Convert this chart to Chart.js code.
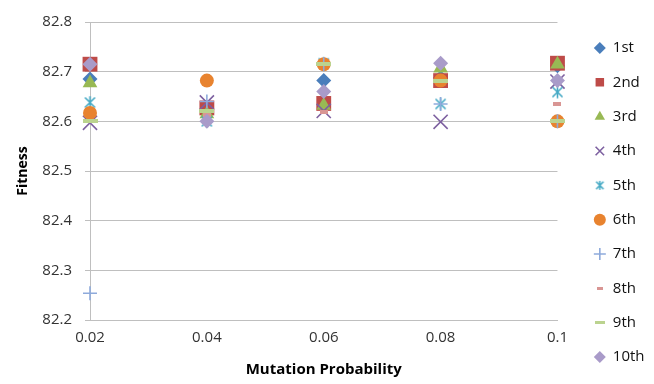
<!DOCTYPE html>
<html>
<head>
<meta charset="utf-8">
<script src="https://cdn.jsdelivr.net/npm/chart.js@4.4.1/dist/chart.umd.min.js"></script>
<style>
  html, body { margin: 0; padding: 0; background: #fff; }
  #wrap { width: 654px; height: 384px; }
</style>
</head>
<body>
<div id="wrap"><canvas id="chart"></canvas></div>
<script>
  // mutation probabilities on the x axis
  const PROBABILITIES = [0.02, 0.04, 0.06, 0.08, 0.1];
  const Y_TICKS = [82.2, 82.3, 82.4, 82.5, 82.6, 82.7, 82.8];

  const RUN_NAMES = ['1st', '2nd', '3rd', '4th', '5th', '6th', '7th', '8th', '9th', '10th'];

  // fitness of each run, one value per probability
  const RUN_1 = [82.685, 82.625, 82.682, 82.688, 82.712];
  const RUN_2 = [82.715, 82.627, 82.636, 82.682, 82.717];
  const RUN_3 = [82.677, 82.615, 82.632, 82.707, 82.715];
  const RUN_4 = [82.597, 82.638, 82.621, 82.599, 82.680];
  const RUN_5 = [82.638, 82.600, 82.717, 82.635, 82.659];
  const RUN_6 = [82.617, 82.682, 82.715, 82.682, 82.600];
  const RUN_7 = [82.254, 82.640, 82.715, 82.635, 82.600];
  const RUN_8 = [82.600, 82.612, 82.618, 82.682, 82.635];
  const RUN_9 = [82.600, 82.620, 82.715, 82.682, 82.600];
  const RUN_10 = [82.715, 82.600, 82.660, 82.717, 82.682];

  const RUNS = [RUN_1, RUN_2, RUN_3, RUN_4, RUN_5, RUN_6, RUN_7, RUN_8, RUN_9, RUN_10];

  const COLORS = ['#4A7EBB', '#BE4B48', '#98B954', '#7D60A0', '#46AAC5',
                  '#E8832F', '#8EAADB', '#D99694', '#BBD38F', '#A99BC9'];

  // small canvases for the marker shapes Chart.js has no built-in for
  function starMarker(size, color) {
    const c = document.createElement('canvas');
    c.width = size; c.height = size;
    const ctx = c.getContext('2d');
    ctx.strokeStyle = color;
    ctx.lineWidth = 1.6;
    const m = size / 2, e = size * 0.42;
    ctx.beginPath();
    ctx.moveTo(m, m - e); ctx.lineTo(m, m + e);
    ctx.moveTo(m - e * 0.8, m - e * 0.8); ctx.lineTo(m + e * 0.8, m + e * 0.8);
    ctx.moveTo(m + e * 0.8, m - e * 0.8); ctx.lineTo(m - e * 0.8, m + e * 0.8);
    ctx.stroke();
    return c;
  }

  function barMarker(w, h, color) {
    const c = document.createElement('canvas');
    c.width = w; c.height = h;
    const ctx = c.getContext('2d');
    ctx.fillStyle = color;
    ctx.fillRect(0, 0, w, h);
    return c;
  }

  const MARKERS = [
    { style: 'rectRot', radius: 7.5 },
    { style: 'rect', radius: 10.5 },
    { style: 'triangle', radius: 8.5 },
    { style: 'crossRot', radius: 10, border: 1.6 },
    { style: starMarker(15, COLORS[4]), legend: starMarker(11, COLORS[4]) },
    { style: 'circle', radius: 7 },
    { style: 'cross', radius: 7, border: 1.6 },
    { style: barMarker(8, 4, COLORS[7]), legend: barMarker(6, 3, COLORS[7]) },
    { style: barMarker(15, 4, COLORS[8]), legend: barMarker(10, 3, COLORS[8]) },
    { style: 'rectRot', radius: 7.5 }
  ];

  const datasets = RUNS.map((run, i) => ({
    label: RUN_NAMES[i],
    data: run.map((v, j) => ({ x: PROBABILITIES[j], y: v })),
    showLine: false,
    clip: false,
    pointStyle: MARKERS[i].style,
    pointRadius: MARKERS[i].radius || 8,
    pointHoverRadius: MARKERS[i].radius || 8,
    pointBackgroundColor: COLORS[i],
    pointBorderColor: COLORS[i],
    pointBorderWidth: MARKERS[i].border || 0,
    backgroundColor: COLORS[i],
    borderColor: COLORS[i],
    // later runs are painted on top
    order: RUNS.length - i
  }));

  const TEXT = '#333333';
  const GRID = '#BFBFBF';

  // nudge the legend column to where the original has it
  const legendPlace = {
    id: 'legendPlace',
    afterLayout(chart) {
      const lg = chart.legend;
      if (!lg) return;
      const w = lg.right - lg.left;
      lg.left = 575;
      lg.right = 575 + w;
      lg.top += 10.5;
      lg.bottom += 10.5;
    }
  };

  new Chart(document.getElementById('chart'), {
    type: 'scatter',
    data: { datasets },
    plugins: [legendPlace],
    options: {
      responsive: true,
      maintainAspectRatio: false,
      animation: false,
      layout: { padding: { top: 0, right: 17, bottom: 0, left: 0 } },
      scales: {
        x: {
          type: 'linear',
          min: 0.02,
          max: 0.1,
          afterBuildTicks: s => { s.ticks = PROBABILITIES.map(v => ({ value: v })); },
          afterFit: s => { s.height = 64; },
          ticks: {
            callback: v => String(+v.toFixed(2)),
            color: TEXT,
            font: { family: 'Open Sans', size: 15 },
            padding: 1,
            maxRotation: 0
          },
          grid: { display: false },
          border: { color: GRID },
          title: {
            display: true,
            text: 'Mutation Probability',
            color: '#000',
            font: { family: 'Open Sans', size: 15, weight: 'bold' },
            padding: { top: 0, bottom: 5 }
          }
        },
        y: {
          min: 82.2,
          max: 82.8,
          afterBuildTicks: s => { s.ticks = Y_TICKS.map(v => ({ value: v })); },
          afterFit: s => { s.width = 90; },
          ticks: {
            callback: v => v.toFixed(1),
            color: TEXT,
            font: { family: 'Open Sans', size: 15 },
            padding: 13
          },
          grid: { color: GRID, tickLength: 5, tickColor: GRID },
          border: { color: GRID },
          title: {
            display: true,
            text: 'Fitness',
            color: '#000',
            font: { family: 'Open Sans', size: 14, weight: 'bold' },
            padding: { top: 15, bottom: 0 }
          }
        }
      },
      plugins: {
        tooltip: { enabled: false },
        // empty title only reserves the space above the plot
        title: {
          display: true,
          text: '',
          fullSize: false,
          font: { size: 10, lineHeight: 1 },
          padding: { top: 10, bottom: 0 }
        },
        legend: {
          position: 'right',
          labels: {
            usePointStyle: true,
            boxWidth: 11,
            boxHeight: 8.5,
            padding: 19.33,
            color: '#111',
            font: { family: 'Open Sans', size: 15 },
            sort: (a, b) => a.datasetIndex - b.datasetIndex,
            generateLabels: chart => {
              const items = Chart.defaults.plugins.legend.labels.generateLabels(chart);
              items.forEach(it => {
                const m = MARKERS[it.datasetIndex];
                if (m.legend) it.pointStyle = m.legend;
              });
              return items;
            }
          }
        }
      }
    }
  });
</script>
</body>
</html>
